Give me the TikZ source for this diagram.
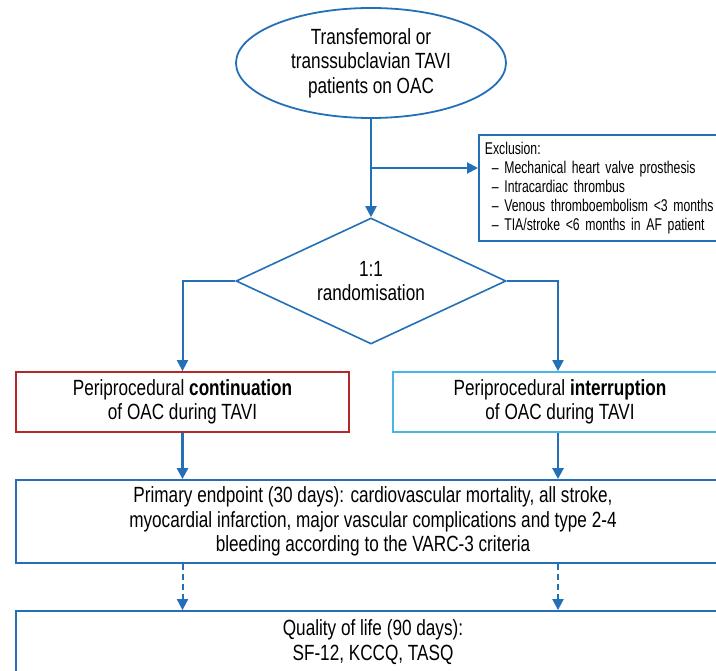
\documentclass[tikz,border=0pt]{standalone}
\usepackage{fontspec}
\setmainfont[FakeStretch=0.78]{Liberation Sans}
\newfontfamily\exclfont[FakeStretch=0.72]{Liberation Sans}
\usetikzlibrary{shapes.geometric,arrows.meta}
\definecolor{cblue}{HTML}{2470B8}
\definecolor{cred}{HTML}{B5282A}
\definecolor{clblue}{HTML}{48B5E8}
\begin{document}
\begin{tikzpicture}[x=1pt,y=-1pt,
  every node/.style={font=\fontsize{22}{24.5}\selectfont, align=center, inner sep=0pt},
  boxline/.style={draw=cblue, line width=1.8pt},
  conn/.style={cblue, line width=2.6pt, -{Triangle[width=11pt,length=11pt]}},
  thinconn/.style={cblue, line width=2pt, -{Triangle[width=11pt,length=11pt]}},
  dashconn/.style={cblue, line width=2pt, dash pattern=on 6pt off 4pt, -{Triangle[width=11pt,length=11pt]}}]
\useasboundingbox (0,0) rectangle (716,671);
\clip (0,0) rectangle (716,671);
\node[ellipse, boxline, minimum width=270pt, minimum height=110pt] (start) at (371,63)
  {Transfemoral or\\transsubclavian TAVI\\patients on OAC};
\node[boxline, anchor=north west, text width=250pt, inner xsep=6pt, minimum height=106pt,
  align=left, font=\exclfont\fontsize{17}{19}\selectfont] (excl) at (478,134)
  {Exclusion:\\
   \hspace*{7pt}– Mechanical heart valve prosthesis\\
   \hspace*{7pt}– Intracardiac thrombus\\
   \hspace*{7pt}– Venous thromboembolism <3 months\\
   \hspace*{7pt}– TIA/stroke <6 months in AF patient};
\node[diamond, draw=cblue, line width=1.6pt, aspect=2.14, minimum width=270pt, minimum height=126pt] (rand) at (371,281)
  {1:1\\randomisation};
\node[draw=cred, line width=1.8pt, minimum width=333pt, minimum height=60pt] (cont) at (182.5,402)
  {Periprocedural \textbf{continuation}\\of OAC during TAVI};
\node[draw=clblue, line width=1.8pt, minimum width=334pt, minimum height=60pt] (intr) at (560,402)
  {Periprocedural \textbf{interruption}\\of OAC during TAVI};
\node[boxline, minimum width=714pt, minimum height=83pt] (prim) at (373,521.5)
  {Primary endpoint (30 days): cardiovascular mortality, all stroke,\\myocardial infarction, major vascular complications and type 2-4\\bleeding according to the VARC-3 criteria};
\node[boxline, minimum width=714pt, minimum height=62pt] (qol) at (373,642)
  {Quality of life (90 days):\\SF-12, KCCQ, TASQ};
\coordinate (br) at (371,168);
\draw[thinconn] (start.south) -- (rand.north);
\draw[thinconn] (br) -- (excl.west |- br);
\draw[thinconn] (rand.west) -| (cont.north -| 182.5,0);
\draw[thinconn] (rand.east) -| (intr.north -| 558,0);
\draw[conn] (cont.south -| 182.5,0) -- (prim.north -| 182.5,0);
\draw[conn] (intr.south -| 558,0) -- (prim.north -| 558,0);
\draw[dashconn] (prim.south -| 182.5,0) -- (qol.north -| 182.5,0);
\draw[dashconn] (prim.south -| 558,0) -- (qol.north -| 558,0);
\end{tikzpicture}
\end{document}
